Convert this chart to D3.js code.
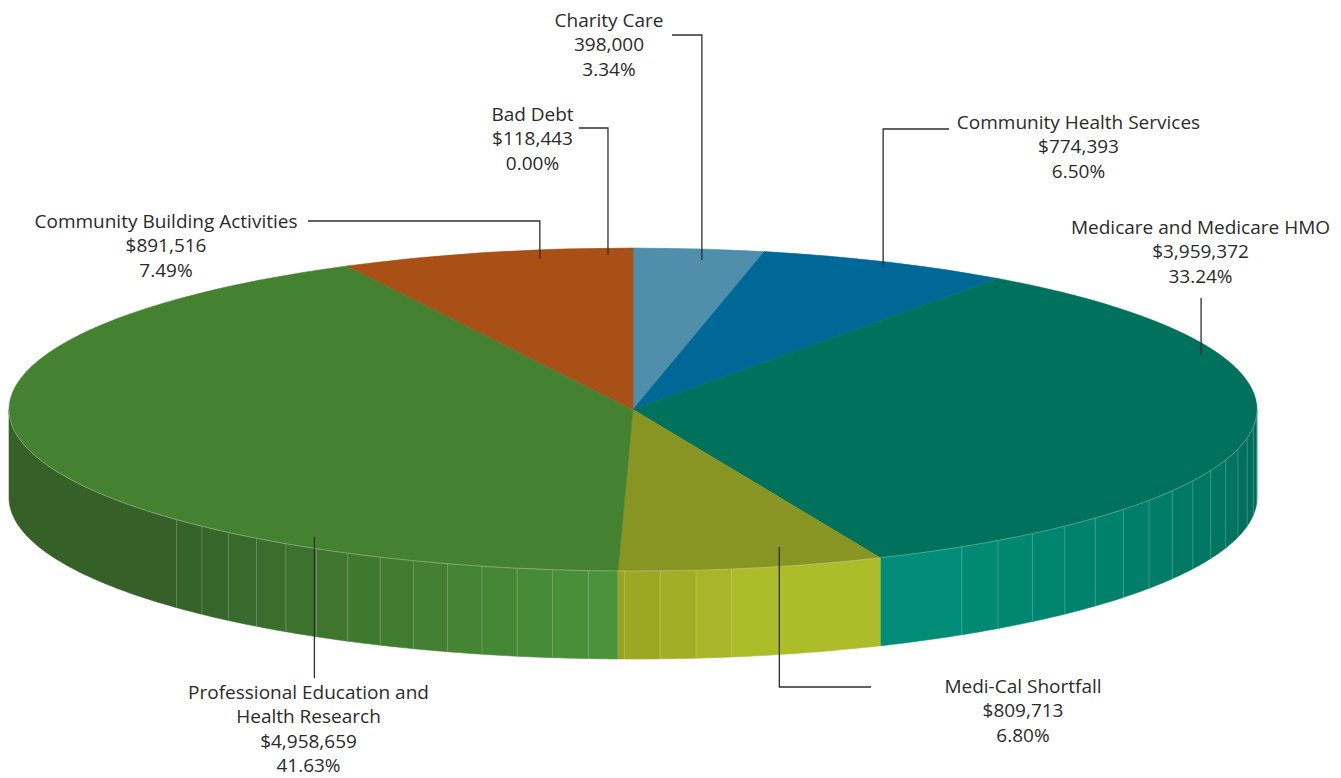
<!DOCTYPE html>
<html>
<head>
<meta charset="utf-8">
<script src="https://cdn.jsdelivr.net/npm/d3@7"></script>
<style>
  body { margin: 0; background: #fff; }
  svg { display: block; }
  text { font-family: "Open Sans", "Noto Sans", sans-serif; fill: #2b2b2b; }
</style>
</head>
<body>
<svg id="chart" width="1341" height="778"></svg>
<script>
// Community benefit categories, in clockwise order from 12 o'clock
const categories = [
  "Charity Care",
  "Community Health Services",
  "Medicare and Medicare HMO",
  "Medi-Cal Shortfall",
  "Professional Education and Health Research",
  "Community Building Activities",
  "Bad Debt"
];
// Category names as they are broken onto lines in the labels
const nameLines = [
  ["Charity Care"],
  ["Community Health Services"],
  ["Medicare and Medicare HMO"],
  ["Medi-Cal Shortfall"],
  ["Professional Education and", "Health Research"],
  ["Community Building Activities"],
  ["Bad Debt"]
];
const amountLabels = ["398,000", "$774,393", "$3,959,372", "$809,713", "$4,958,659", "$891,516", "$118,443"];
const percents = [3.34, 6.50, 33.24, 6.80, 41.63, 7.49, 0.00];

// Styling: top colours, and side colours at full light / no light
const topColors       = ["#4f8fac", "#006896", "#00715c", "#899522", "#448232", "#a85016", "#a85016"];
const sideLightColors = ["#5aa2c2", "#0078ab", "#008c76", "#adbd29", "#51a13f", "#c05c1a", "#c05c1a"];
const sideDarkColors  = ["#3a6b82", "#004d70", "#006452", "#504501", "#356128", "#7a3a10", "#7a3a10"];

// Label placement: anchor on the top face (angle in degrees, fraction of radius),
// text centre and first baseline, and the leader's elbow.
const labelLayout = [
  { deg: 6.8,   r: 0.932, tx: 609,    ty: 27,  bendY: 35,  endX: 672 },
  { deg: 24.6,  r: 0.963, tx: 1078.5, ty: 129, bendY: 129, endX: 949 },
  { deg: 69.65, r: 0.971, tx: 1200.5, ty: 234, bendY: 298, endX: null },
  { deg: 164.6, r: 0.883, tx: 1023,   ty: 693, bendY: 687, endX: 871 },
  { deg: 212.9, r: 0.94,  tx: 308.5,  ty: 699, bendY: 678, endX: null },
  { deg: 350.9, r: 0.944, tx: 166,    ty: 228, bendY: 221, endX: 308 },
  { deg: 357.6, r: 0.9575,tx: 532.5,  ty: 121, bendY: 128, endX: 579 }
];

const cx = 633, cy = 409.5, rx = 624, ry = 161.5, depth = 88;
const lineHeight = 24.4;
const fontSize = 19;

// Banded shading of the wall: brightest plateau, then steps of equal size
const rad = Math.PI / 180;
const plateauLo = 148.2 * rad, plateauHi = 170.9 * rad;
const bandLeft = 3.3 * rad, bandRight = 4.0 * rad;
const bandStep = 3.3 / 57.5;

const svg = d3.select("#chart");

const data = categories.map((c, i) => ({ name: c, pct: percents[i], i }));
const arcs = d3.pie().sort(null).value(d => d.pct)(data);

function pt(a, r = 1, dy = 0) {
  return [cx + rx * r * Math.sin(a), cy - ry * r * Math.cos(a) + dy];
}

function level(a) {
  if (a > plateauHi) return Math.max(0, 1 - Math.ceil((a - plateauHi) / bandLeft) * bandStep);
  if (a < plateauLo) return Math.max(0, 1 - Math.ceil((plateauLo - a) / bandRight) * bandStep);
  return 1;
}

// band boundaries over the visible front half
const bandCuts = [];
for (let a = plateauHi; a < 1.5 * Math.PI; a += bandLeft) if (level(a + 1e-4) > 0 || level(a - 1e-4) > 0) bandCuts.push(a);
for (let a = plateauLo; a > 0.5 * Math.PI; a -= bandRight) bandCuts.push(a);

// ---- Side wall: only the front half (90°..270°) is visible
const sideG = svg.append("g");
const seamG = svg.append("g");
const lineGen = d3.line();
arcs.forEach(arc => {
  const i = arc.data.i;
  const a0 = Math.max(arc.startAngle, Math.PI / 2);
  const a1 = Math.min(arc.endAngle, 3 * Math.PI / 2);
  if (a1 <= a0) return;
  const cuts = [a0].concat(bandCuts.filter(c => c > a0 + 1e-6 && c < a1 - 1e-6).sort((p, q) => p - q), [a1]);
  for (let j = 0; j < cuts.length - 1; j++) {
    const s = cuts[j], e = cuts[j + 1];
    const n = Math.max(2, Math.ceil((e - s) / 0.01));
    const topPts = d3.range(n + 1).map(q => pt(s + (e - s) * q / n));
    const botPts = topPts.map(p => [p[0], p[1] + depth]).reverse();
    const col = d3.interpolateRgb(sideDarkColors[i], sideLightColors[i])(level((s + e) / 2));
    sideG.append("path")
      .attr("d", lineGen(topPts.concat(botPts)) + "Z")
      .attr("fill", col)
      .attr("stroke", col)
      .attr("stroke-width", 0.6);
    if (j > 0) {
      const p = pt(s);
      seamG.append("line")
        .attr("x1", p[0]).attr("y1", p[1])
        .attr("x2", p[0]).attr("y2", p[1] + depth)
        .attr("stroke", "rgba(255,255,255,0.25)")
        .attr("stroke-width", 0.8);
    }
  }
});
// light seam where the two front wedges meet
arcs.forEach(arc => {
  const a = arc.startAngle;
  if (a > plateauHi && a < 1.5 * Math.PI) {
    const p = pt(a);
    seamG.append("line")
      .attr("x1", p[0]).attr("y1", p[1])
      .attr("x2", p[0]).attr("y2", p[1] + depth)
      .attr("stroke", "rgba(255,255,255,0.3)")
      .attr("stroke-width", 0.8);
  }
});

// ---- Top face: circular arcs squashed into the ellipse
const arcGen = d3.arc().innerRadius(0).outerRadius(rx);
const topG = svg.append("g")
  .attr("transform", `translate(${cx},${cy}) scale(1,${ry / rx})`);
topG.selectAll("path")
  .data(arcs.filter(d => d.endAngle > d.startAngle))
  .join("path")
  .attr("d", arcGen)
  .attr("fill", d => topColors[d.data.i])
  .attr("stroke", d => topColors[d.data.i])
  .attr("stroke-width", 0.6)
  .attr("vector-effect", "non-scaling-stroke");

// faint highlight along the front rim
const rimPts = d3.range(0, 181).map(q => pt(Math.PI / 2 + Math.PI * q / 180));
svg.append("path")
  .attr("d", lineGen(rimPts))
  .attr("fill", "none")
  .attr("stroke", "rgba(255,255,255,0.35)")
  .attr("stroke-width", 0.8);

// ---- Leaders and labels
const leaderG = svg.append("g");
const textG = svg.append("g");
labelLayout.forEach((L, i) => {
  const a = L.deg * rad;
  const [ax, ay] = pt(a, L.r);
  const pts = [[ax, ay], [ax, L.bendY]];
  if (L.endX !== null) pts.push([L.endX, L.bendY]);
  leaderG.append("path")
    .attr("d", lineGen(pts))
    .attr("fill", "none")
    .attr("stroke", "#2e2e2e")
    .attr("stroke-width", 1.3);

  const lines = nameLines[i].concat([amountLabels[i], percents[i].toFixed(2) + "%"]);
  const t = textG.append("text")
    .attr("text-anchor", "middle")
    .attr("font-size", fontSize);
  lines.forEach((s, j) => {
    t.append("tspan")
      .attr("x", L.tx)
      .attr("y", L.ty + j * lineHeight)
      .text(s);
  });
});
</script>
</body>
</html>
